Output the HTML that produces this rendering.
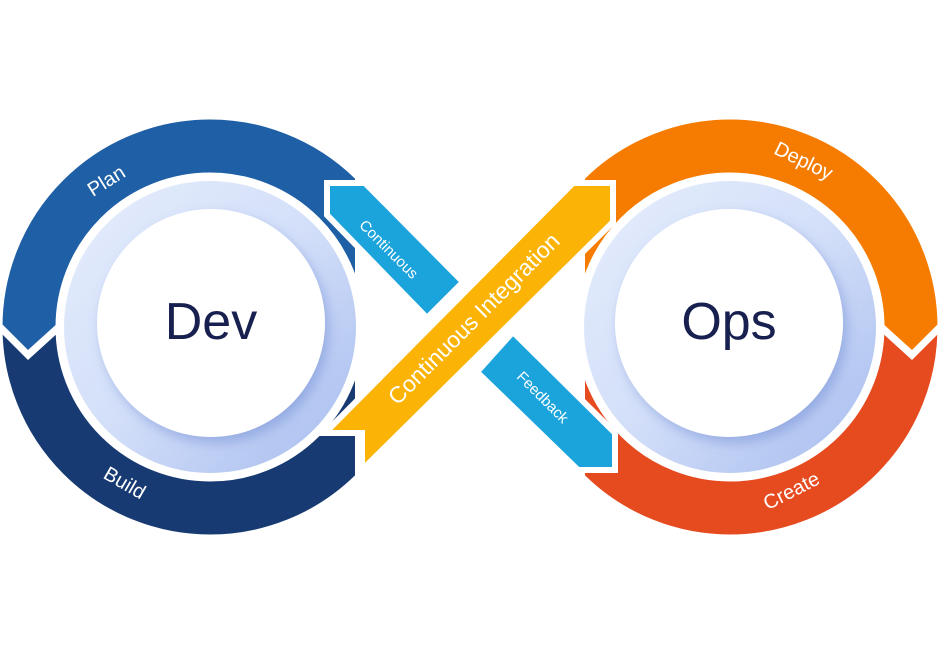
<!DOCTYPE html>
<html><head><meta charset="utf-8"><style>
html,body{margin:0;padding:0;background:#fff;}
svg{display:block;}
text{font-family:"Liberation Sans",sans-serif;}
</style></head><body>
<svg width="940" height="650" viewBox="0 0 940 650" xmlns="http://www.w3.org/2000/svg">
<defs>
<linearGradient id="lr" x1="0" y1="0" x2="1" y2="1">
<stop offset="0" stop-color="#e6eefc"/><stop offset="0.5" stop-color="#d3dff9"/><stop offset="1" stop-color="#a5bbee"/>
</linearGradient>
<filter id="sh" x="-30%" y="-30%" width="160%" height="160%">
<feDropShadow dx="4" dy="6" stdDeviation="6" flood-color="#5a78c8" flood-opacity="0.4"/>
</filter>
<clipPath id="plan"><polygon points="-10,-10,355,-10,355,312,70,312,28,350,-10,312"/></clipPath>
<clipPath id="build"><polygon points="-10,322,28,360,72,320,355,320,355,700,-10,700"/></clipPath>
<clipPath id="deploy"><polygon points="950,-10,585,-10,585,312,870,312,912,350,950,312"/></clipPath>
<clipPath id="create"><polygon points="950,322,912,360,868,320,585,320,585,700,950,700"/></clipPath>
</defs>

<circle cx="210" cy="327" r="181" fill="none" stroke="#1f5fa6" stroke-width="53" clip-path="url(#plan)"/>
<circle cx="210" cy="327" r="181" fill="none" stroke="#173a72" stroke-width="53" clip-path="url(#build)"/>
<circle cx="730" cy="327" r="181" fill="none" stroke="#f57c00" stroke-width="53" clip-path="url(#deploy)"/>
<circle cx="730" cy="327" r="181" fill="none" stroke="#e64a1f" stroke-width="53" clip-path="url(#create)"/>

<circle cx="210" cy="327" r="146" fill="url(#lr)"/>
<circle cx="211" cy="323" r="114" fill="#fff" filter="url(#sh)"/>
<circle cx="730" cy="327" r="146" fill="url(#lr)"/>
<circle cx="729" cy="323" r="114" fill="#fff" filter="url(#sh)"/>
<text x="211" y="339" font-size="52" fill="#17204e" text-anchor="middle">Dev</text>
<text x="729" y="339" font-size="52" fill="#17204e" text-anchor="middle">Ops</text>

<g stroke="#fff" stroke-width="6" stroke-linejoin="miter">
<polygon points="327,183 365,183 463,282 427,318 327,215" fill="#1ba3dc"/>
<polygon points="513,332 615,433 615,470 578,470 477,372" fill="#1ba3dc"/>
<polygon points="325,433 573,183 613,183 613,222 362,470 362,433" fill="#fbb305"/>
</g>

<text transform="translate(388,250) rotate(45)" font-size="15" fill="#fff" text-anchor="middle" dominant-baseline="middle">Continuous</text>
<text transform="translate(542,398) rotate(45)" font-size="15" fill="#fff" text-anchor="middle" dominant-baseline="middle">Feedback</text>
<text transform="translate(475,320) rotate(-45)" font-size="23" fill="#fff" text-anchor="middle" dominant-baseline="middle">Continuous Integration</text>

<text transform="translate(107,182) rotate(-32)" font-size="20" fill="#fff" text-anchor="middle" dominant-baseline="middle">Plan</text>
<text transform="translate(124,484) rotate(30)" font-size="20" fill="#fff" text-anchor="middle" dominant-baseline="middle">Build</text>
<text transform="translate(803,162) rotate(26)" font-size="20" fill="#fff" text-anchor="middle" dominant-baseline="middle">Deploy</text>
<text transform="translate(792,492) rotate(-27)" font-size="20" fill="#fff" text-anchor="middle" dominant-baseline="middle">Create</text>
</svg>
</body></html>
